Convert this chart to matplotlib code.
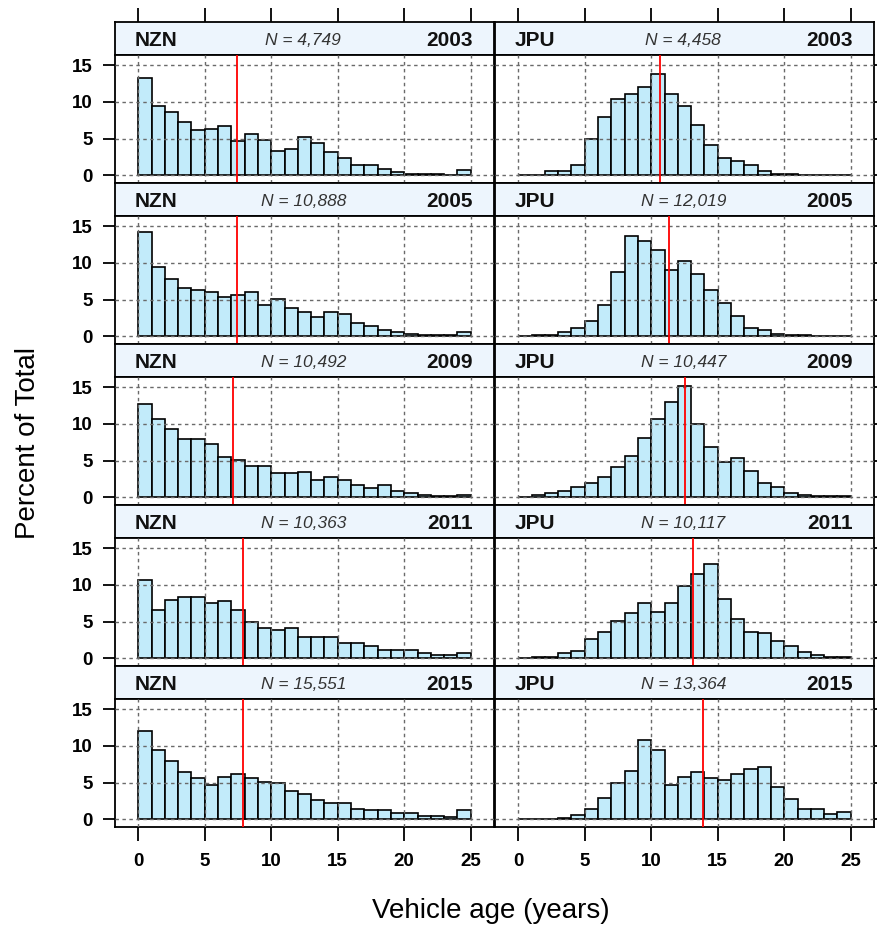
import matplotlib
matplotlib.use('Agg')
import matplotlib.pyplot as plt
import numpy as np

# ---------------- data ----------------
ages = np.arange(25)            # left edges of 1-year age bins
years = [2003, 2005, 2009, 2011, 2015]
nzn_counts = ['4,749', '10,888', '10,492', '10,363', '15,551']
jpu_counts = ['4,458', '12,019', '10,447', '10,117', '13,364']

nzn_2003 = [13.3, 9.4, 8.6, 7.3, 6.1, 6.3, 6.7, 4.6, 5.6, 4.8, 3.3, 3.6, 5.2,
            4.4, 3.1, 2.4, 1.4, 1.4, 0.9, 0.4, 0.2, 0.2, 0.2, 0.05, 0.65]
nzn_2005 = [14.2, 9.5, 7.8, 6.6, 6.3, 6.0, 5.4, 5.6, 6.0, 4.3, 5.1, 3.8, 3.3,
            2.6, 3.3, 3.0, 1.8, 1.4, 0.8, 0.6, 0.3, 0.15, 0.15, 0.15, 0.6]
nzn_2009 = [12.7, 10.6, 9.3, 8.0, 8.0, 7.3, 5.5, 5.1, 4.3, 4.3, 3.3, 3.3, 3.5,
            2.3, 2.8, 2.4, 1.6, 1.3, 1.6, 0.8, 0.55, 0.3, 0.15, 0.15, 0.3]
nzn_2011 = [10.6, 6.6, 8.0, 8.3, 8.3, 7.5, 7.8, 6.6, 4.9, 4.1, 3.8, 4.1, 2.9,
            2.9, 2.9, 2.1, 2.1, 1.6, 1.1, 1.1, 1.1, 0.65, 0.4, 0.4, 0.7]
nzn_2015 = [12.0, 9.5, 8.0, 6.4, 5.6, 4.6, 5.8, 6.2, 5.6, 5.1, 4.9, 3.9, 3.4,
            2.6, 2.2, 2.2, 1.4, 1.2, 1.2, 0.9, 0.9, 0.45, 0.45, 0.25, 1.2]

jpu_2003 = [0.05, 0.05, 0.6, 0.6, 1.4, 5.0, 7.9, 10.4, 11.1, 12.1, 13.8, 11.1, 9.4,
            6.9, 4.1, 2.4, 1.9, 1.4, 0.6, 0.2, 0.2, 0.05, 0.05, 0.05, 0.05]
jpu_2005 = [0.05, 0.15, 0.15, 0.6, 1.15, 2.1, 4.3, 8.8, 13.7, 13.0, 11.8, 9.0, 10.3,
            8.5, 6.3, 4.5, 2.7, 1.1, 0.8, 0.3, 0.15, 0.15, 0.05, 0.05, 0.05]
jpu_2009 = [0.05, 0.35, 0.6, 0.8, 1.4, 1.9, 2.7, 4.1, 5.6, 8.1, 10.6, 13.0, 15.2,
            10.0, 6.8, 4.8, 5.4, 3.6, 2.0, 1.4, 0.6, 0.35, 0.15, 0.15, 0.15]
jpu_2011 = [0.05, 0.2, 0.2, 0.7, 1.0, 2.65, 3.6, 5.1, 6.1, 7.5, 6.3, 7.5, 9.8,
            11.5, 12.8, 8.1, 5.4, 3.6, 3.4, 2.4, 1.6, 0.9, 0.45, 0.2, 0.2]
jpu_2015 = [0.02, 0.02, 0.05, 0.2, 0.5, 1.45, 2.9, 4.9, 6.6, 10.8, 9.5, 4.6, 5.8,
            6.4, 5.6, 5.4, 6.1, 6.8, 7.1, 4.4, 2.7, 1.4, 1.4, 0.7, 1.0]

nzn_median = [7.41, 7.41, 7.14, 7.84, 7.91]
jpu_median = [10.66, 11.33, 12.54, 13.16, 13.87]

x_ticks = [0, 5, 10, 15, 20, 25]
y_ticks = [0, 5, 10, 15]

nzn_series = [nzn_2003, nzn_2005, nzn_2009, nzn_2011, nzn_2015]
jpu_series = [jpu_2003, jpu_2005, jpu_2009, jpu_2011, jpu_2015]

# ---------------- style ----------------
plt.rcParams['font.family'] = ['Liberation Sans', 'DejaVu Sans']
BAR = '#C2EBFA'
STRIP = '#EDF5FD'
GRID = '#6a6a6a'

W, H = 877, 927
fig = plt.figure(figsize=(W / 100, H / 100), dpi=100)

col_x = [115, 495]
col_w = 379
row_top0 = 22
row_pitch = 161
strip_h = 33
panel_h = 128
XLIM = (-1.75, 26.75)
YLIM = (-1.07, 16.4)


def fr(x, y, w, h):
    return [x / W, 1 - (y + h) / H, w / W, h / H]


for r in range(5):
    top = row_top0 + r * row_pitch
    for c in range(2):
        label = 'NZN' if c == 0 else 'JPU'
        counts = nzn_counts if c == 0 else jpu_counts
        series = nzn_series if c == 0 else jpu_series
        med = nzn_median if c == 0 else jpu_median

        # strip
        sax = fig.add_axes(fr(col_x[c], top, col_w, strip_h))
        sax.set_facecolor(STRIP)
        sax.set_xlim(XLIM)
        sax.set_ylim(0, 1)
        sax.set_yticks([])
        for sp in sax.spines.values():
            sp.set_linewidth(1.3)
        if r == 0:
            sax.xaxis.tick_top()
            sax.set_xticks(x_ticks)
            sax.tick_params(axis='x', direction='out', length=10, width=1.3,
                            labeltop=False, labelbottom=False)
        else:
            sax.set_xticks([])
        sax.text(0.052, 0.45, label, transform=sax.transAxes, ha='left', va='center',
                 fontsize=15, fontweight='bold', color='#111111')
        sax.text(0.945, 0.45, str(years[r]), transform=sax.transAxes, ha='right',
                 va='center', fontsize=15, fontweight='bold', color='#111111')
        sax.text(0.497, 0.45, 'N = ' + counts[r], transform=sax.transAxes, ha='center',
                 va='center', fontsize=12.5, fontstyle='italic', color='#333333')

        # panel
        ax = fig.add_axes(fr(col_x[c], top + strip_h, col_w, panel_h))
        ax.set_xlim(XLIM)
        ax.set_ylim(YLIM)
        ax.bar(ages, series[r], width=1.0, align='edge', color=BAR,
               edgecolor='black', linewidth=1.2, zorder=2)
        for gx in x_ticks:
            ax.axvline(gx, color=GRID, lw=1.0, ls=(0, (2.5, 2.5)), zorder=3)
        for gy in y_ticks:
            ax.axhline(gy, color=GRID, lw=1.0, ls=(0, (2.5, 2.5)), zorder=3)
        ax.axvline(med[r], color='red', lw=1.3, zorder=4)
        for sp in ax.spines.values():
            sp.set_linewidth(1.3)

        ax.set_yticks(y_ticks)
        if c == 0:
            ax.tick_params(axis='y', direction='out', length=9, width=1.3, pad=7,
                           left=True, labelleft=True, right=False)
            for lab in ax.get_yticklabels():
                lab.set_fontweight('bold')
                lab.set_fontsize(13.5)
        else:
            ax.yaxis.tick_right()
            ax.tick_params(axis='y', direction='out', length=9, width=1.3,
                           labelright=False, left=False)

        ax.set_xticks(x_ticks)
        if r == 4:
            ax.tick_params(axis='x', direction='out', length=10, width=1.3, pad=9)
            for lab in ax.get_xticklabels():
                lab.set_fontweight('bold')
                lab.set_fontsize(13.5)
        else:
            ax.tick_params(axis='x', bottom=False, labelbottom=False)

fig.text(491 / W, 1 - 911 / H, 'Vehicle age (years)', ha='center', va='center',
         fontsize=20)
fig.text(28 / W, 1 - 443 / H, 'Percent of Total', ha='center', va='center',
         rotation=90, fontsize=20)

fig.savefig('out.png', dpi=100)
